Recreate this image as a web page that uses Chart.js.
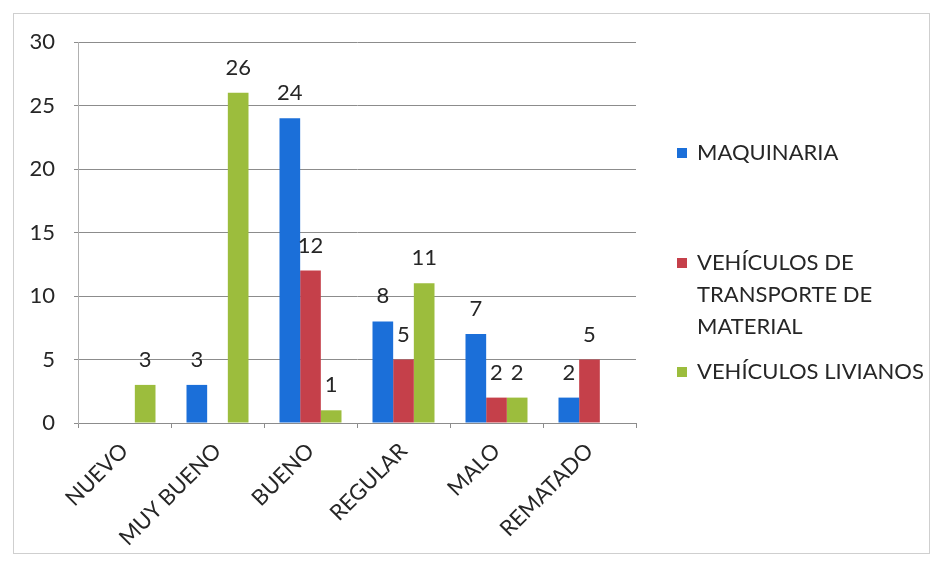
<!DOCTYPE html>
<html>
<head>
<meta charset="utf-8">
<script src="https://cdn.jsdelivr.net/npm/chart.js@4"></script>
<style>
  html, body { margin: 0; padding: 0; background: #fff; }
  #wrap { width: 936px; height: 564px; position: relative; }
</style>
</head>
<body>
<div id="wrap"><canvas id="graficoEstado" width="936" height="564"></canvas></div>
<script>
// datos
const categorias = ["NUEVO", "MUY BUENO", "BUENO", "REGULAR", "MALO", "REMATADO"];
const series = ["MAQUINARIA", "VEHÍCULOS DE TRANSPORTE DE MATERIAL", "VEHÍCULOS LIVIANOS"];
const maquinaria = [null, 3, 24, 8, 7, 2];
const transporte = [null, null, 12, 5, 2, 5];
const livianos = [3, 26, 1, 11, 2, null];
const ticksY = [0, 5, 10, 15, 20, 25, 30];

const colores = ["#1b6fd9", "#c5404a", "#9cbd3d"];
const fuente = "Lato, 'Open Sans', sans-serif";
const gris = "#8c8c8c";
const texto = "#262626";

// etiquetas de valor encima de cada barra
const etiquetasValor = {
    id: "etiquetasValor",
    afterDatasetsDraw(chart) {
        const ctx = chart.ctx;
        ctx.save();
        ctx.font = "22px " + fuente;
        ctx.fillStyle = texto;
        ctx.textAlign = "center";
        ctx.textBaseline = "middle";
        chart.data.datasets.forEach((ds, i) => {
            const meta = chart.getDatasetMeta(i);
            meta.data.forEach((bar, j) => {
                const v = ds.data[j];
                if (v === null || v === undefined) return;
                ctx.fillText(String(v), bar.x, bar.y - 25);
            });
        });
        ctx.restore();
    }
};

// leyenda a la derecha, como en Excel
const leyenda = {
    id: "leyenda",
    afterDraw(chart) {
        const ctx = chart.ctx;
        const inicioY = [153, 263, 372];
        const xCuadro = 677, xTexto = 697, anchoMax = 238, alto = 32;
        ctx.save();
        ctx.font = "22px " + fuente;
        ctx.textBaseline = "middle";
        series.forEach((nombre, i) => {
            // partir en lineas
            const palabras = nombre.split(" ");
            const lineas = [];
            let actual = "";
            palabras.forEach(p => {
                const prueba = actual ? actual + " " + p : p;
                if (ctx.measureText(prueba).width > anchoMax && actual) {
                    lineas.push(actual);
                    actual = p;
                } else {
                    actual = prueba;
                }
            });
            lineas.push(actual);
            ctx.fillStyle = colores[i];
            ctx.fillRect(xCuadro, inicioY[i] - 5, 10, 10);
            ctx.fillStyle = texto;
            lineas.forEach((l, k) => ctx.fillText(l, xTexto, inicioY[i] + k * alto));
        });
        // marco exterior
        ctx.strokeStyle = "#cfcfcf";
        ctx.lineWidth = 1;
        ctx.strokeRect(13.5, 13.5, 916, 540);
        ctx.restore();
    }
};

const ctx = document.getElementById("graficoEstado");

new Chart(ctx, {
    type: "bar",
    data: {
        labels: categorias,
        datasets: [
            { label: series[0], data: maquinaria, backgroundColor: colores[0] },
            { label: series[1], data: transporte, backgroundColor: colores[1] },
            { label: series[2], data: livianos, backgroundColor: colores[2] },
        ],
    },
    options: {
        responsive: false,
        animation: false,
        events: [],
        layout: { padding: { left: 0, top: 42, right: 300, bottom: 0 } },
        datasets: {
            bar: { categoryPercentage: 3 / 4.5, barPercentage: 1 },
        },
        scales: {
            x: {
                offset: true,
                grid: {
                    offset: true,
                    drawOnChartArea: false,
                    drawTicks: true,
                    tickLength: 5,
                    color: gris,
                },
                border: { color: gris },
                ticks: {
                    minRotation: 45,
                    maxRotation: 45,
                    padding: 10,
                    color: texto,
                    font: { family: fuente, size: 22 },
                },
                afterFit(scale) { scale.height = 141; },
            },
            y: {
                min: 0,
                max: 30,
                afterBuildTicks(scale) { scale.ticks = ticksY.map(v => ({ value: v })); },
                grid: { color: gris, tickLength: 4 },
                border: { color: "#b0b0b0" },
                ticks: {
                    padding: 19,
                    color: texto,
                    font: { family: fuente, size: 22 },
                },
                afterFit(scale) { scale.width = 78; },
            },
        },
        plugins: {
            legend: { display: false },
            tooltip: { enabled: false },
            title: { display: false },
        },
    },
    plugins: [etiquetasValor, leyenda],
});
</script>
</body>
</html>
